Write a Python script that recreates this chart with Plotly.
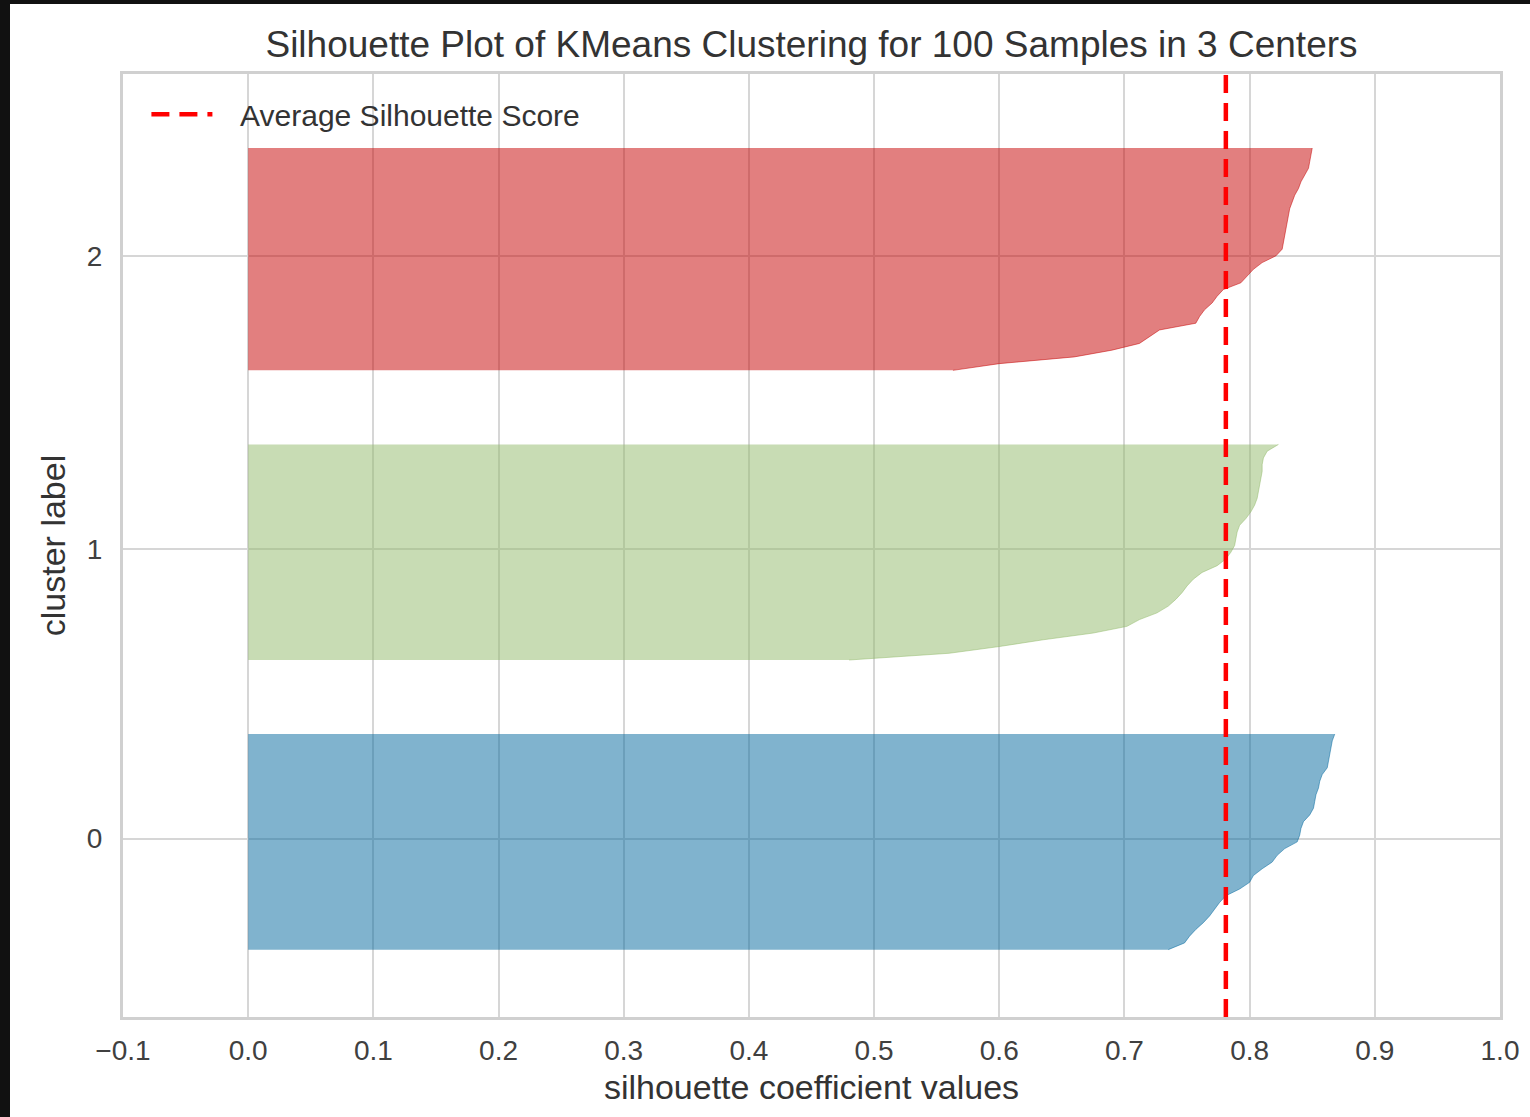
import numpy as np
import plotly.graph_objects as go

# ---- data (sorted silhouette coefficients per cluster) ----
cluster_labels = ["0", "1", "2"]
cluster0_values = [0.735, 0.748, 0.752, 0.757, 0.763, 0.768, 0.772, 0.776, 0.781, 0.792,
                   0.800, 0.803, 0.810, 0.818, 0.822, 0.828, 0.838, 0.840, 0.841, 0.843,
                   0.848, 0.851, 0.852, 0.853, 0.855, 0.856, 0.858, 0.862, 0.863, 0.864,
                   0.865, 0.866, 0.868]
cluster1_values = [0.48, 0.56, 0.60, 0.635, 0.675, 0.702, 0.712, 0.726, 0.735, 0.741,
                   0.746, 0.750, 0.755, 0.762, 0.774, 0.781, 0.785, 0.788, 0.789, 0.790,
                   0.792, 0.797, 0.801, 0.804, 0.806, 0.807, 0.808, 0.809, 0.810, 0.810,
                   0.811, 0.814, 0.823]
cluster2_values = [0.563, 0.60, 0.66, 0.69, 0.712, 0.72, 0.728, 0.757, 0.760, 0.764,
                   0.770, 0.774, 0.779, 0.793, 0.798, 0.803, 0.810, 0.821, 0.826, 0.827,
                   0.828, 0.829, 0.830, 0.831, 0.832, 0.834, 0.836, 0.839, 0.841, 0.844,
                   0.847, 0.848, 0.849, 0.850]
average_score = 0.781
x_tick_values = [-0.1, 0.0, 0.1, 0.2, 0.3, 0.4, 0.5, 0.6, 0.7, 0.8, 0.9, 1.0]
x_tick_labels = ["\u22120.1", "0.0", "0.1", "0.2", "0.3", "0.4", "0.5", "0.6", "0.7", "0.8", "0.9", "1.0"]

clusters = [cluster0_values, cluster1_values, cluster2_values]
fill_colors = ["rgba(2,104,158,0.5)", "rgba(146,186,106,0.5)", "rgba(198,0,0,0.5)"]

GAP = 10
n_samples = sum(len(c) for c in clusters)
y_max = n_samples + (len(clusters) + 1) * GAP

fig = go.Figure()
tick_pos = []
y_lower = GAP
for vals, col in zip(clusters, fill_colors):
    n = len(vals)
    ys = np.arange(y_lower, y_lower + n)
    fig.add_trace(go.Scatter(
        x=vals, y=ys, mode="lines", fill="tozerox", fillcolor=col,
        line=dict(color=col, width=1), showlegend=False, hoverinfo="skip"))
    tick_pos.append(y_lower + 0.5 * n)
    y_lower = y_lower + n + GAP

fig.add_trace(go.Scatter(
    x=[average_score, average_score], y=[0, y_max], mode="lines",
    line=dict(color="#FF0000", width=4.5, dash="18px,10px"),
    name="\u00a0\u00a0\u2009Average Silhouette Score", showlegend=True))

W, H = 1530, 1117
L, R, T, B = 123, 30, 74, 100
pw, ph = W - L - R, H - T - B

font_family = "Liberation Sans, Arial, sans-serif"
grid = "#D6D6D6"

fig.update_layout(
    width=W, height=H,
    margin=dict(l=L, r=R, t=T, b=B),
    paper_bgcolor="#111111",
    plot_bgcolor="white",
    font=dict(family=font_family, color="#404040", size=28),
    title=dict(text="Silhouette Plot of KMeans Clustering for 100 Samples in 3 Centers",
               x=0.5, xref="paper", xanchor="center",
               y=1 - 44 / H, yref="container", yanchor="middle",
               font=dict(size=37, color="#333333")),
    xaxis=dict(range=[-0.1, 1.0], tickvals=x_tick_values, ticktext=x_tick_labels,
               showgrid=True, gridcolor=grid, gridwidth=2, zeroline=False,
               showline=True, linecolor="#D0D0D0", linewidth=3, mirror=True,
               ticks="outside", ticklen=6, tickcolor="rgba(0,0,0,0)",
               tickfont=dict(size=28, color="#404040"),
               title=dict(text="silhouette coefficient values", standoff=11,
                          font=dict(size=34, color="#333333"))),
    yaxis=dict(range=[0, y_max], tickvals=tick_pos, ticktext=cluster_labels,
               showgrid=True, gridcolor=grid, gridwidth=2, zeroline=False,
               showline=True, linecolor="#D0D0D0", linewidth=3, mirror=True,
               ticks="outside", ticklen=12, tickcolor="rgba(0,0,0,0)",
               tickfont=dict(size=28, color="#404040"),
               title=dict(text="cluster label", standoff=11,
                          font=dict(size=34, color="#333333"))),
    legend=dict(x=0.017, y=0.985, xanchor="left", yanchor="top",
                bgcolor="rgba(0,0,0,0)", font=dict(size=30, color="#333333"),
                itemwidth=61),
    shapes=[dict(type="rect", xref="paper", yref="paper", layer="below",
                 x0=(10 - L) / pw, x1=(W - L) / pw,
                 y0=-B / ph, y1=(ph + T - 4) / ph,
                 fillcolor="white", line=dict(width=0))],
)

fig.write_html("out.html")
